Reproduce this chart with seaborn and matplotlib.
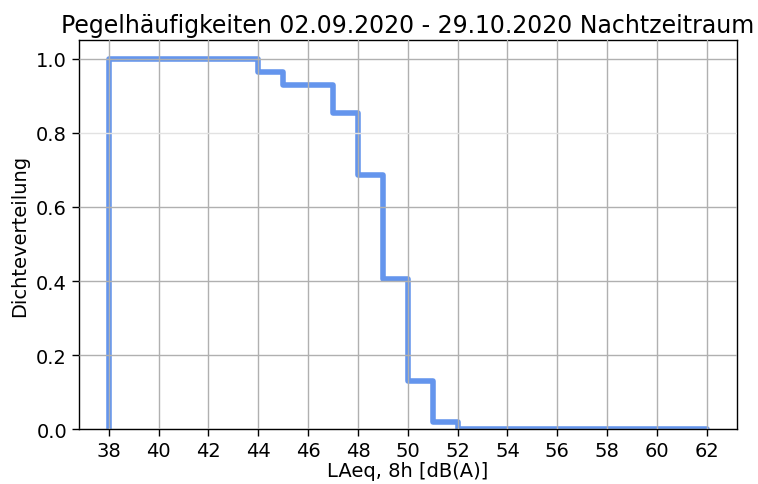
# Pegelhäufigkeiten – Summenhäufigkeit (Nachtzeitraum)
import numpy as np
import pandas as pd
import matplotlib
matplotlib.use('Agg')
import matplotlib.pyplot as plt
import seaborn as sns

# Klassengrenzen in dB(A) und Anteil der Nächte >= Klasse
kanten = list(range(38, 63))
anteile = [1.0, 1.0, 1.0, 1.0, 1.0, 1.0,
           0.965, 0.930, 0.930, 0.854, 0.686, 0.405, 0.130, 0.019,
           0.0, 0.0, 0.0, 0.0, 0.0, 0.0, 0.0, 0.0, 0.0, 0.0]
x_ticks = list(range(38, 63, 2))
y_ticks = [0.0, 0.2, 0.4, 0.6, 0.8, 1.0]

titel = 'Pegelhäufigkeiten 02.09.2020 - 29.10.2020 Nachtzeitraum'

# Treppenlinie: Start bei 0, dann Wert je Klasse (steps-post)
df = pd.DataFrame({
    'pegel': [kanten[0]] + kanten,
    'dichte': [0.0] + anteile + [anteile[-1]],
})

sns.set_style('white')
plt.rcParams['font.family'] = ['DejaVu Sans']
plt.rcParams['text.color'] = 'black'
plt.rcParams['axes.labelcolor'] = 'black'
plt.rcParams['xtick.color'] = 'black'
plt.rcParams['ytick.color'] = 'black'

fig, ax = plt.subplots(figsize=(7.58, 4.85), dpi=100)
sns.lineplot(data=df, x='pegel', y='dichte', ax=ax, color='#6495ED',
             linewidth=4.0, drawstyle='steps-post', estimator=None, sort=False)

ax.set_xticks(x_ticks)
ax.set_yticks(y_ticks)
ax.set_xlim(36.8, 63.2)
ax.set_ylim(0, 1.05)
ax.grid(True, color='#b0b0b0', linewidth=1.0)
ax.set_axisbelow(False)
# die 0.8-Linie ist im Original heller
ax.get_ygridlines()[4].set_color('#e2e2e2')
for s in ax.spines.values():
    s.set_color('black')
    s.set_linewidth(1.0)
ax.tick_params(axis='both', direction='out', length=5, width=1, color='black',
               labelsize=14, left=True, bottom=True)

ax.set_title(titel, fontsize=17, color='black')
ax.set_xlabel('LAeq, 8h [dB(A)]', fontsize=14, labelpad=1)
ax.set_ylabel('Dichteverteilung', fontsize=14, labelpad=5)

plt.subplots_adjust(left=0.104, right=0.972, top=0.915, bottom=0.113)
plt.savefig('out.png', dpi=100)
